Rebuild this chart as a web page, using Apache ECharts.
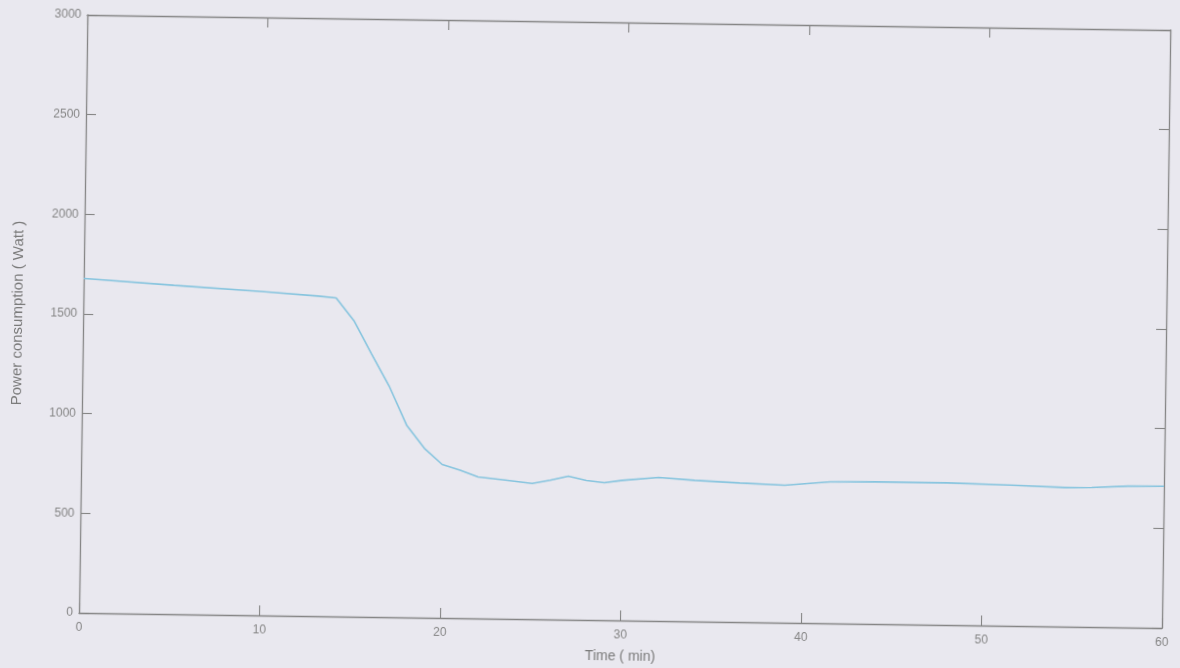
<!DOCTYPE html>
<html><head><meta charset="utf-8">
<script src="https://cdn.jsdelivr.net/npm/echarts@6/dist/echarts.min.js"></script>
<style>
html,body{margin:0;padding:0;background:#e9e8ef;overflow:hidden;}
#c{width:1180px;height:668px;transform:rotate(0.8deg);transform-origin:50% 50%;}
</style></head><body><div id="c"></div>
<script>
const timeMin = [0, 5, 10, 13, 14, 15, 16, 17, 18, 19, 20, 21, 22, 23.5, 25, 26, 27, 28, 29, 30, 32, 34, 36.5, 39, 41.5, 44, 48, 51.5, 54.5, 56, 58, 60];
const powerWatt = [1678, 1650, 1624, 1606, 1598, 1485, 1320, 1160, 965, 850, 770, 742, 710, 696, 681, 699, 720, 700, 690, 703, 720, 708, 698, 690, 710, 713, 713, 706, 698, 700, 709, 711];
const xTickLabels = [0, 10, 20, 30, 40, 50, 60];
const yTickLabels = [0, 500, 1000, 1500, 2000, 2500, 3000];
const xTitle = 'Time ( min)';
const yTitle = 'Power consumption ( Watt )';

const frame = '#858585';
const txt = '#858585';
const font = '"Liberation Sans", Arial, sans-serif';
const chart = echarts.init(document.getElementById('c'), null, {renderer: 'canvas'});
const pts = timeMin.map((t, i) => [t, powerWatt[i]]);
const xMin = xTickLabels[0], xMax = xTickLabels[xTickLabels.length - 1];
const yMin = yTickLabels[0], yMax = yTickLabels[yTickLabels.length - 1];
const xInt = xTickLabels[1] - xTickLabels[0];
const yInt = yTickLabels[1] - yTickLabels[0];
const plain = v => String(v);

function xa(pos, labels) {
  return {
    type: 'value', position: pos, min: xMin, max: xMax, interval: xInt,
    axisLine: {show: true, onZero: false, lineStyle: {color: frame, width: 1.3}},
    axisTick: {show: true, inside: true, length: 10, lineStyle: {color: frame, width: 1.1}},
    axisLabel: {show: labels, color: txt, fontSize: 12, fontFamily: font, margin: 9, formatter: plain},
    splitLine: {show: false},
    name: labels ? xTitle : '', nameLocation: 'middle', nameGap: 29,
    nameTextStyle: {color: '#7a7a7a', fontSize: 14, fontFamily: font}
  };
}
function ya(pos, labels) {
  return {
    type: 'value', position: pos, min: yMin, max: yMax, interval: yInt,
    axisLine: {show: true, onZero: false, lineStyle: {color: frame, width: 1.3}},
    axisTick: {show: true, inside: true, length: 10, lineStyle: {color: frame, width: 1.1}},
    axisLabel: {show: labels, color: txt, fontSize: 12, fontFamily: font, margin: 6, formatter: plain},
    splitLine: {show: false},
    name: labels ? yTitle : '', nameLocation: 'middle', nameGap: 58, nameRotate: 90,
    nameTextStyle: {color: '#7a7a7a', fontSize: 15, fontFamily: font}
  };
}

chart.setOption({
  backgroundColor: 'transparent',
  animation: false,
  grid: {left: 83, right: 14, top: 22, bottom: 48, containLabel: false},
  xAxis: [xa('bottom', true), xa('top', false)],
  yAxis: [ya('left', true), ya('right', false)],
  series: [{
    type: 'line', data: pts, xAxisIndex: 0, yAxisIndex: 0,
    showSymbol: false, smooth: false,
    lineStyle: {color: '#86c4de', width: 1.6}
  }]
});
</script></body></html>
